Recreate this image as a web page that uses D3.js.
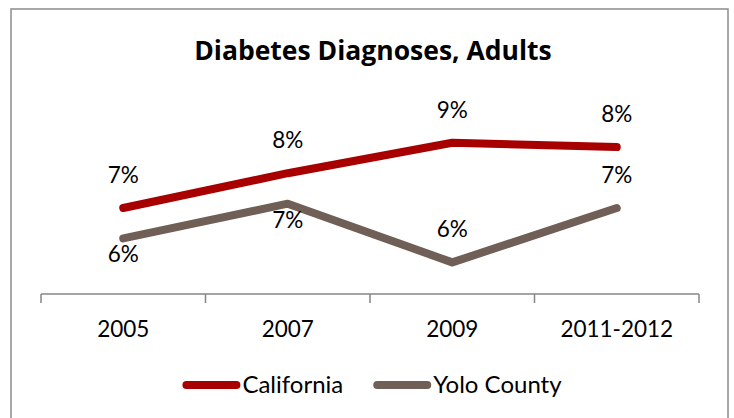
<!DOCTYPE html>
<html>
<head>
<meta charset="utf-8">
<script src="https://cdn.jsdelivr.net/npm/d3@7"></script>
<style>
  html, body { margin: 0; padding: 0; background: #ffffff; }
  svg { display: block; }
  text { font-family: Lato, "Open Sans", sans-serif; fill: #000; }
</style>
</head>
<body>
<svg id="chart" width="734" height="418"></svg>
<script>
const title = "Diabetes Diagnoses, Adults";
const categories = ["2005", "2007", "2009", "2011-2012"];
const seriesNames = ["California", "Yolo County"];
const californiaValues = [7.0, 7.8, 8.5, 8.4];
const yoloValues = [6.3, 7.1, 5.75, 7.0];
const californiaLabelPlacement = ["above", "above", "above", "above"];
const yoloLabelPlacement = ["below", "below", "above", "above"];
const seriesColors = ["#A80000", "#705F56"];

const series = [
  { name: seriesNames[0], values: californiaValues, placement: californiaLabelPlacement, color: seriesColors[0] },
  { name: seriesNames[1], values: yoloValues, placement: yoloLabelPlacement, color: seriesColors[1] }
];

const svg = d3.select("#chart");

// outer chart frame
svg.append("rect")
  .attr("x", 11).attr("y", 9)
  .attr("width", 717).attr("height", 430)
  .attr("fill", "none")
  .attr("stroke", "#8c8c8c")
  .attr("stroke-width", 1.5);

// title
svg.append("text")
  .attr("x", 373).attr("y", 60)
  .attr("text-anchor", "middle")
  .style("font-family", "'Open Sans', Lato, sans-serif")
  .style("font-size", "26.5px")
  .style("font-weight", "bold")
  .text(title);

const x = d3.scaleBand().domain(categories).range([41, 699]).padding(0);
const y = d3.scaleLinear().domain([5, 9]).range([295, 121]);
const axisY = 294;

// category axis
const axis = d3.axisBottom(x).tickSize(0).tickPadding(0);
const gAxis = svg.append("g").attr("transform", `translate(0,${axisY})`).call(axis);
gAxis.select(".domain").remove();
gAxis.selectAll("text")
  .attr("y", 43)
  .attr("dy", null)
  .style("font-family", "Lato, 'Open Sans', sans-serif")
  .style("font-size", "22.5px")
  .attr("fill", "#000");

svg.append("line")
  .attr("x1", x.range()[0]).attr("x2", x.range()[1])
  .attr("y1", axisY).attr("y2", axisY)
  .attr("stroke", "#868686").attr("stroke-width", 1.5);

const boundaries = categories.map(c => x(c)).concat([x(categories[categories.length - 1]) + x.bandwidth()]);
svg.selectAll("line.tick-mark").data(boundaries).enter().append("line")
  .attr("class", "tick-mark")
  .attr("x1", d => d).attr("x2", d => d)
  .attr("y1", axisY).attr("y2", axisY + 9)
  .attr("stroke", "#868686").attr("stroke-width", 1.5);

const line = d3.line()
  .x((d, i) => x(categories[i]) + x.bandwidth() / 2)
  .y(d => y(d));

series.forEach(s => {
  svg.append("path")
    .attr("d", line(s.values))
    .attr("fill", "none")
    .attr("stroke", s.color)
    .attr("stroke-width", 8)
    .attr("stroke-linecap", "round")
    .attr("stroke-linejoin", "round");
});

series.forEach(s => {
  svg.selectAll(null).data(s.values).enter().append("text")
    .attr("x", (d, i) => x(categories[i]) + x.bandwidth() / 2)
    .attr("y", (d, i) => s.placement[i] === "above" ? y(d) - 25 : y(d) + 24)
    .attr("text-anchor", "middle")
    .style("font-size", "22.5px")
    .text(d => Math.round(d) + "%");
});

// legend
const legend = svg.append("g");
const lineLen = 58, gapAfterLine = 2, gapBetween = 30;
let cursor = 0;
series.forEach(s => {
  const g = legend.append("g").attr("transform", `translate(${cursor},0)`);
  g.append("line")
    .attr("x1", 4).attr("x2", lineLen - 4)
    .attr("y1", 0).attr("y2", 0)
    .attr("stroke", s.color).attr("stroke-width", 8)
    .attr("stroke-linecap", "round");
  const t = g.append("text")
    .attr("x", lineLen + gapAfterLine).attr("y", 8)
    .style("font-size", "24px")
    .text(s.name);
  cursor += lineLen + gapAfterLine + t.node().getComputedTextLength() + gapBetween;
});
const legendWidth = cursor - gapBetween;
legend.attr("transform", `translate(${372 - legendWidth / 2},385)`);
</script>
</body>
</html>
